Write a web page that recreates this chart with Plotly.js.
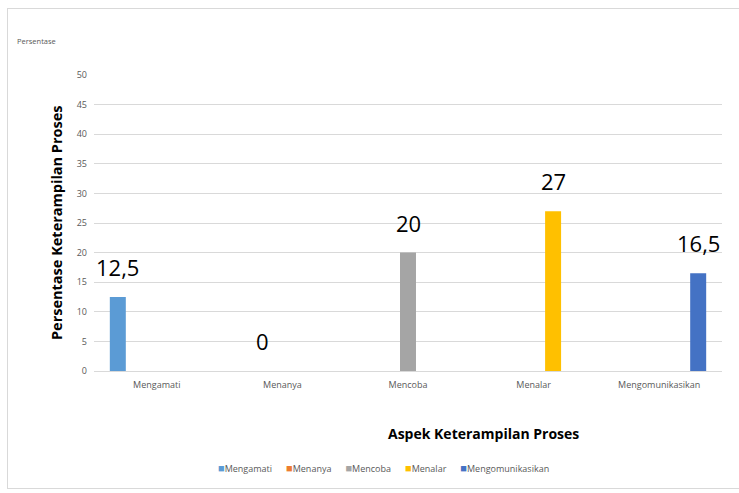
<!DOCTYPE html>
<html>
<head>
<meta charset="utf-8">
<script src="https://cdn.plot.ly/plotly-3.0.1.min.js"></script>
<style>
  html, body { margin: 0; padding: 0; background: #fff; }
  #frame { position: absolute; left: 7px; top: 8px; width: 740px; height: 481px; border: 1px solid #d9d9d9; box-sizing: border-box; }
  #chart { position: absolute; left: 0; top: 0; width: 739px; height: 493px; }
</style>
</head>
<body>
<div id="frame"></div>
<div id="chart"></div>
<script>
// Data
const categories = ["Mengamati", "Menanya", "Mencoba", "Menalar", "Mengomunikasikan"];
const seriesNames = ["Mengamati", "Menanya", "Mencoba", "Menalar", "Mengomunikasikan"];
const seriesValues = [12.5, 0, 20, 27, 16.5]; // each series has a value only in its own category
const seriesColors = ["#5B9BD5", "#ED7D31", "#A5A5A5", "#FFC000", "#4472C4"];
const yTicks = [0, 5, 10, 15, 20, 25, 30, 35, 40, 45, 50];

const W = 739, H = 493;
const margin = { l: 94, r: 17, t: 75, b: 122 };
const plotW = W - margin.l - margin.r;
const plotH = H - margin.t - margin.b;
const bargap = 0.224;
const bargroupgap = 0.18;

const textColor = "#595959";
const baseFont = "'Open Sans', 'Noto Sans', sans-serif";

const traces = seriesNames.map((name, i) => ({
  type: "bar",
  name: name,
  x: categories,
  y: categories.map((c, j) => (j === i ? seriesValues[i] : null)),
  marker: { color: seriesColors[i] },
  showlegend: false,
  hoverinfo: "x+y"
}));

// data labels aligned with grouped bar offsets
const catW = plotW / categories.length;
const slotW = catW * (1 - bargap) / seriesNames.length;
const annotations = seriesNames.map((name, i) => ({
  x: categories[i],
  y: seriesValues[i],
  xref: "x", yref: "y",
  xshift: (i - (seriesNames.length - 1) / 2) * slotW,
  yshift: 13,
  yanchor: "bottom",
  text: String(seriesValues[i]).replace(".", ","),
  showarrow: false,
  font: { family: baseFont, size: 22, color: "#000" }
}));

annotations.push({
  xref: "paper", yref: "paper",
  x: (483 - margin.l) / plotW, y: (margin.t + plotH - 434) / plotH,
  xanchor: "center", yanchor: "middle",
  text: "<b>Aspek Keterampilan Proses</b>",
  showarrow: false,
  font: { family: baseFont, size: 14, color: "#000" }
});
annotations.push({
  xref: "paper", yref: "paper",
  x: (56 - margin.l) / plotW, y: 0.5,
  xanchor: "center", yanchor: "middle",
  textangle: -90,
  text: "<b>Persentase Keterampilan Proses</b>",
  showarrow: false,
  font: { family: baseFont, size: 14.5, color: "#000" }
});
annotations.push({
  xref: "paper", yref: "paper",
  x: (15 - margin.l) / plotW, y: (margin.t + plotH - 41) / plotH,
  xanchor: "left", yanchor: "middle",
  text: "Persentase",
  showarrow: false,
  font: { family: baseFont, size: 7.5, color: textColor }
});
// legend line
const legendText = seriesNames.map((n, i) =>
  '<span style="color:' + seriesColors[i] + ';font-size:11px">\u25A0</span>' + n
).join("\u00A0\u00A0\u00A0\u00A0\u00A0\u00A0");
annotations.push({
  xref: "paper", yref: "paper",
  x: (383 - margin.l) / plotW, y: (margin.t + plotH - 467) / plotH,
  xanchor: "center", yanchor: "middle",
  text: legendText,
  showarrow: false,
  font: { family: baseFont, size: 9, color: textColor }
});

const layout = {
  width: W, height: H,
  margin: margin,
  paper_bgcolor: "rgba(0,0,0,0)",
  plot_bgcolor: "rgba(0,0,0,0)",
  barmode: "group",
  bargap: bargap,
  bargroupgap: bargroupgap,
  separators: ",.",
  font: { family: baseFont, size: 9, color: textColor },
  xaxis: {
    type: "category",
    categoryarray: categories,
    showgrid: false,
    showline: true,
    linecolor: "#d9d9d9",
    linewidth: 1,
    ticks: "",
    ticklabelstandoff: 5,
    tickfont: { family: baseFont, size: 9, color: textColor },
    fixedrange: true
  },
  yaxis: {
    range: [0, 50],
    tickvals: yTicks,
    showgrid: true,
    gridcolor: "#d9d9d9",
    zeroline: false,
    showline: false,
    ticks: "",
    ticklabelstandoff: 6,
    tickfont: { family: baseFont, size: 9, color: textColor },
    fixedrange: true
  },
  annotations: annotations,
  showlegend: false
};

Plotly.newPlot("chart", traces, layout, { displayModeBar: false, staticPlot: true });
</script>
</body>
</html>
